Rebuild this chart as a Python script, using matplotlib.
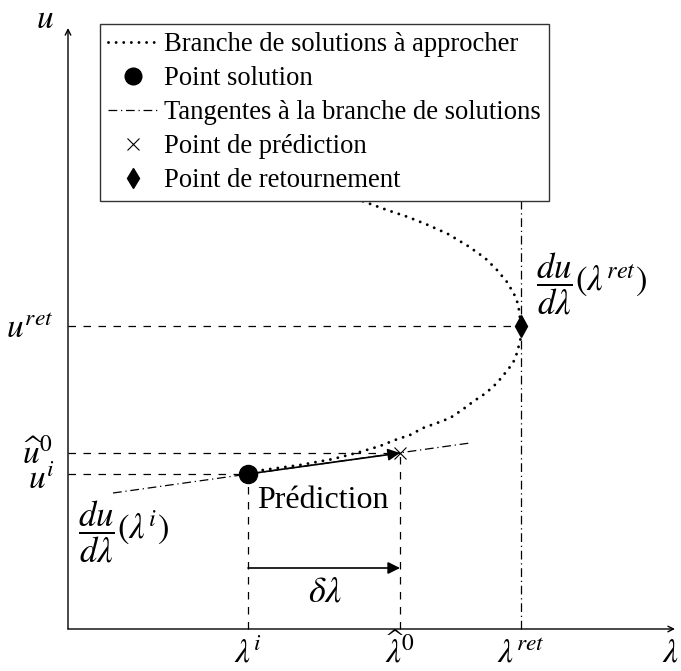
import numpy as np
import matplotlib
matplotlib.use("Agg")
import matplotlib.pyplot as plt
from matplotlib.lines import Line2D

plt.rcParams['font.family'] = ['Liberation Serif', 'DejaVu Serif']
plt.rcParams['mathtext.fontset'] = 'stix'

# branche de solutions (lambda, u)
branch_lam = [1.80, 1.95, 2.32, 2.65, 2.92, 3.12, 3.27, 3.42, 3.55, 3.69, 3.82,
              3.94, 4.06, 4.18, 4.29, 4.38, 4.45, 4.49, 4.51, 4.53, 4.53,
              4.51, 4.49, 4.46, 4.39, 4.29, 4.17, 4.00, 3.80, 3.60, 3.40,
              3.19, 2.97, 2.77]
branch_u = [1.55, 1.59, 1.64, 1.70, 1.77, 1.83, 1.89, 1.94, 2.01, 2.06, 2.11,
            2.19, 2.28, 2.36, 2.46, 2.57, 2.66, 2.76, 2.84, 2.92, 3.03,
            3.19, 3.28, 3.35, 3.47, 3.59, 3.71, 3.83, 3.95, 4.04, 4.12,
            4.19, 4.27, 4.34]

lam_i, u_i = 1.80, 1.55        # point solution
lam_0, u_0 = 3.32, 1.76        # point de prediction
lam_ret, u_ret = 4.53, 3.03    # point de retournement

tangent_lam = [0.45, 4.02]
tangent_u = [1.36, 1.86]
tangent_ret_u = [0.0, 4.5]

lam_max, u_max = 6.07, 6.01

fig = plt.figure(figsize=(6.81, 6.71), dpi=100)
ax = fig.add_axes([0, 0, 1, 1])
ax.set_xlim(-0.68, 6.13)
ax.set_ylim(-0.42, 6.29)
ax.axis('off')

# axes
ax.annotate('', xy=(lam_max, 0), xytext=(0, 0),
            arrowprops=dict(arrowstyle='->', lw=1.0, color='black', shrinkA=0, shrinkB=0))
ax.annotate('', xy=(0, u_max), xytext=(0, 0),
            arrowprops=dict(arrowstyle='->', lw=1.0, color='black', shrinkA=0, shrinkB=0))

dash = (0, (6, 6))
dashdot = (0, (7, 3, 1, 3))
dots = (0, (0.01, 2.6))

# lignes de rappel
ax.plot([0, lam_i], [u_i, u_i], color='black', lw=0.9, linestyle=dash)
ax.plot([0, lam_0], [u_0, u_0], color='black', lw=0.9, linestyle=dash)
ax.plot([0, lam_ret], [u_ret, u_ret], color='black', lw=0.9, linestyle=dash)
ax.plot([lam_i, lam_i], [0, u_i], color='black', lw=0.9, linestyle=dash)
ax.plot([lam_0, lam_0], [0, u_0], color='black', lw=0.9, linestyle=dash)

# tangentes
ax.plot(tangent_lam, tangent_u, color='black', lw=0.9, linestyle=dashdot)
ax.plot([lam_ret, lam_ret], tangent_ret_u, color='black', lw=0.9, linestyle=dashdot)

# branche
ax.plot(branch_lam, branch_u, color='black', lw=2.1, linestyle=dots,
        dash_capstyle='round')

# prediction
ax.annotate('', xy=(lam_0, u_0), xytext=(lam_i, u_i),
            arrowprops=dict(arrowstyle='-|>', lw=1.2, color='black',
                            mutation_scale=18, shrinkA=0, shrinkB=0))
ax.annotate('', xy=(lam_0, 0.61), xytext=(lam_i, 0.61),
            arrowprops=dict(arrowstyle='-|>', lw=1.2, color='black',
                            mutation_scale=18, shrinkA=0, shrinkB=0))

ax.plot([lam_i], [u_i], 'o', color='black', markersize=13, zorder=5)
ax.plot([lam_0], [u_0], 'x', color='black', markersize=9, mew=0.8, zorder=5)
ax.plot([lam_ret], [u_ret], 'd', color='black', markersize=11, zorder=5)

# textes
ms = 24
ax.text(-0.23, 6.09, r'$u$', fontsize=ms, ha='center', va='center')
ax.text(6.02, -0.33, r'$\lambda$', fontsize=ms, ha='center', va='baseline')
ax.text(lam_i, -0.335, r'$\lambda^i$', fontsize=ms, ha='center', va='baseline')
ax.text(lam_0, -0.335, r'$\widehat{\lambda}^0$', fontsize=ms, ha='center', va='baseline')
ax.text(lam_ret, -0.335, r'$\lambda^{ret}$', fontsize=ms, ha='center', va='baseline')
ax.text(-0.15, 2.91, r'$u^{ret}$', fontsize=ms, ha='right', va='baseline')
ax.text(-0.16, 1.66, r'$\widehat{u}^0$', fontsize=ms, ha='right', va='baseline')
ax.text(-0.13, 1.40, r'$u^i$', fontsize=ms, ha='right', va='baseline')

ax.text(0.55, 0.97, r'$\dfrac{du}{d\lambda}(\lambda^i)$', fontsize=25, ha='center', va='center')
ax.text(4.68, 3.45, r'$\dfrac{du}{d\lambda}(\lambda^{ret})$', fontsize=25, ha='left', va='center')
ax.text(2.55, 1.28, 'Prédiction', fontsize=23, ha='center', va='center')
ax.text(2.57, 0.36, r'$\delta\lambda$', fontsize=26, ha='center', va='center')

handles = [
    Line2D([], [], color='black', lw=2.1, linestyle=dots, dash_capstyle='round'),
    Line2D([], [], color='black', marker='o', markersize=12, linestyle='none'),
    Line2D([], [], color='black', lw=0.9, linestyle=dashdot),
    Line2D([], [], color='black', marker='x', markersize=8, mew=0.8, linestyle='none'),
    Line2D([], [], color='black', marker='d', markersize=10, linestyle='none'),
]
labels = ['Branche de solutions à approcher', 'Point solution',
          'Tangentes à la branche de solutions', 'Point de prédiction',
          'Point de retournement']
leg = ax.legend(handles, labels, loc='upper left', bbox_to_anchor=(100 / 681, 1 - 24 / 671),
                bbox_transform=fig.transFigure, borderaxespad=0, fontsize=19.2,
                frameon=True, fancybox=False, edgecolor='0.2', framealpha=1,
                handlelength=1.85, handletextpad=0.25, labelspacing=0.34,
                borderpad=0.3)
leg.get_frame().set_linewidth(1.0)
leg.set_zorder(10)

fig.savefig('out.png', dpi=100)
